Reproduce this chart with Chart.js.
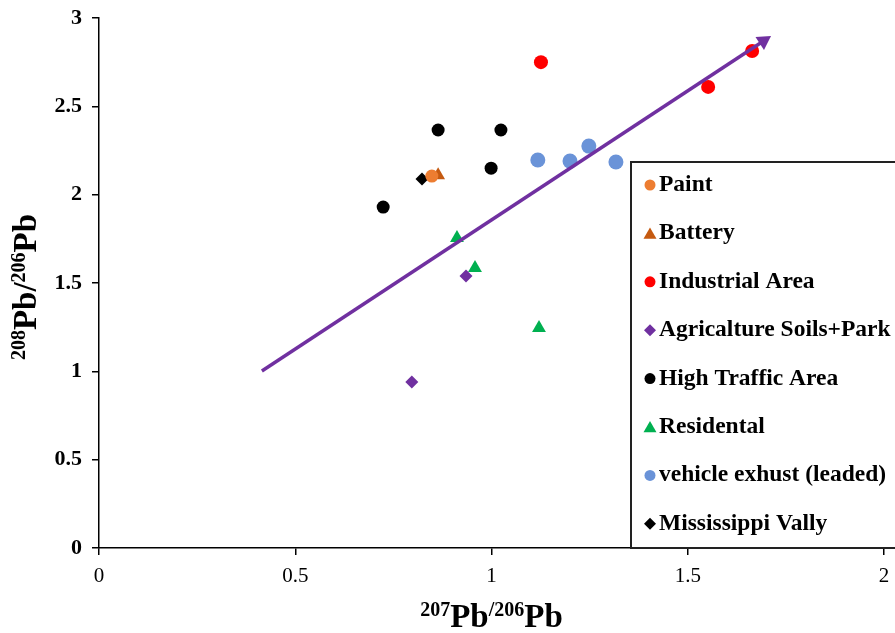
<!DOCTYPE html>
<html>
<head>
<meta charset="utf-8">
<script src="https://cdn.jsdelivr.net/npm/chart.js@4.4.0/dist/chart.umd.min.js"></script>
<style>
  html, body { margin: 0; padding: 0; background: #fff; }
  #wrap { width: 895px; height: 633px; position: relative; }
</style>
</head>
<body>
<div id="wrap"><canvas id="chart"></canvas></div>
<script>
// values
const seriesNames = ['Paint', 'Battery', 'Industrial Area', 'Agricalture Soils+Park',
  'High Traffic Area', 'Residental', 'vehicle exhust (leaded)', 'Mississippi Vally'];

const paintX = [0.848];
const paintY = [2.105];
const batteryX = [0.864];
const batteryY = [2.11];
const industrialX = [1.126, 1.552, 1.664];
const industrialY = [2.75, 2.61, 2.813];
const agriX = [0.935, 0.797];
const agriY = [1.54, 0.94];
const trafficX = [0.724, 0.864, 1.024, 0.999];
const trafficY = [1.93, 2.366, 2.366, 2.15];
const residX = [0.912, 0.958, 1.121];
const residY = [1.755, 1.585, 1.245];
const vehicleX = [1.118, 1.2, 1.248, 1.317];
const vehicleY = [2.196, 2.19, 2.275, 2.185];
const missX = [0.823];
const missY = [2.089];

// trend arrow (start, end)
const trendX = [0.415, 1.693];
const trendY = [1.002, 2.87];

const xTicks = [0, 0.5, 1, 1.5, 2];
const yTicks = [0, 0.5, 1, 1.5, 2, 2.5, 3];

const xTitle = [['207', true], ['Pb', false], ['/206', true], ['Pb', false]];
const yTitle = [['208', true], ['Pb', false], ['/', false], ['206', true], ['Pb', false]];

const colors = ['#ED7D31', '#C55A11', '#FF0000', '#7030A0', '#000000', '#00B050', '#6A93D8', '#000000'];
const styles = ['circle', 'triangle', 'circle', 'rectRot', 'circle', 'triangle', 'circle', 'rectRot'];
const radii = [6.5, 8, 7, 6.5, 6.5, 8, 7.5, 6.5];

function pts(xs, ys) {
  return xs.map((x, i) => ({ x: x, y: ys[i] }));
}

const allX = [paintX, batteryX, industrialX, agriX, trafficX, residX, vehicleX, missX];
const allY = [paintY, batteryY, industrialY, agriY, trafficY, residY, vehicleY, missY];

const datasets = seriesNames.map((name, i) => ({
  label: name,
  data: pts(allX[i], allY[i]),
  pointStyle: styles[i],
  pointRadius: radii[i],
  pointHoverRadius: radii[i],
  backgroundColor: colors[i],
  borderColor: colors[i],
  borderWidth: 0,
  showLine: false
}));

datasets.unshift({
  label: 'trend',
  data: pts(trendX, trendY),
  showLine: true,
  borderColor: '#7030A0',
  backgroundColor: '#7030A0',
  borderWidth: 3.5,
  pointStyle: 'triangle',
  pointRadius: [0, 9],
  pointHoverRadius: [0, 9],
  pointRotation: [0, 57],
  pointBorderWidth: 0
});

function drawMarker(ctx, style, x, y, r, color) {
  ctx.save();
  ctx.fillStyle = color;
  ctx.beginPath();
  if (style === 'circle') {
    ctx.arc(x, y, r, 0, Math.PI * 2);
  } else if (style === 'triangle') {
    for (let k = 0; k < 3; k++) {
      const a = k * 2 * Math.PI / 3;
      const px = x + Math.sin(a) * r, py = y - Math.cos(a) * r;
      if (k === 0) ctx.moveTo(px, py); else ctx.lineTo(px, py);
    }
  } else {
    ctx.moveTo(x, y - r); ctx.lineTo(x + r, y); ctx.lineTo(x, y + r); ctx.lineTo(x - r, y);
  }
  ctx.closePath();
  ctx.fill();
  ctx.restore();
}

// title pieces with small superscripts
const bigFont = 'bold 33px "Liberation Serif"';
const supFont = 'bold 20px "Liberation Serif"';
function titleWidth(ctx, parts) {
  let w = 0;
  parts.forEach(p => {
    ctx.font = p[1] ? supFont : bigFont;
    w += ctx.measureText(p[0]).width;
  });
  return w;
}
function drawTitle(ctx, parts, cx, baseY) {
  const w = titleWidth(ctx, parts);
  let x = cx - w / 2;
  ctx.textAlign = 'left';
  ctx.textBaseline = 'alphabetic';
  ctx.fillStyle = '#000';
  parts.forEach(p => {
    ctx.font = p[1] ? supFont : bigFont;
    ctx.fillText(p[0], x, p[1] ? baseY - 11 : baseY);
    x += ctx.measureText(p[0]).width;
  });
}

const extras = {
  id: 'extras',
  afterDraw(chart) {
    const ctx = chart.ctx;
    const area = chart.chartArea;
    ctx.save();
    // axis titles
    drawTitle(ctx, xTitle, (area.left + area.right) / 2, 627);
    ctx.save();
    ctx.translate(36, (area.top + area.bottom) / 2 + 4);
    ctx.rotate(-Math.PI / 2);
    drawTitle(ctx, yTitle, 0, 0);
    ctx.restore();

    // legend box
    const boxL = 631, boxT = 162, boxB = area.bottom;
    ctx.fillStyle = '#fff';
    ctx.fillRect(boxL, boxT, 300, boxB - boxT);
    ctx.strokeStyle = '#222';
    ctx.lineWidth = 2;
    ctx.strokeRect(boxL, boxT, 300, boxB - boxT);
    ctx.font = 'bold 23.5px "Liberation Serif"';
    ctx.textBaseline = 'middle';
    ctx.textAlign = 'left';
    seriesNames.forEach((name, i) => {
      const y = 185 + i * 48.4;
      const r = styles[i] === 'triangle' ? 7.5 : (styles[i] === 'rectRot' ? 6 : 5.5);
      drawMarker(ctx, styles[i], 650, styles[i] === 'triangle' ? y + 1.5 : y, r, colors[i]);
      ctx.fillStyle = '#000';
      ctx.fillText(name, 659, y);
    });
    ctx.restore();
  }
};

new Chart(document.getElementById('chart'), {
  type: 'scatter',
  data: { datasets: datasets },
  options: {
    responsive: true,
    maintainAspectRatio: false,
    animation: false,
    layout: { padding: { top: 18, right: 11, left: 0, bottom: 0 } },
    plugins: {
      legend: { display: false },
      tooltip: { enabled: false }
    },
    scales: {
      x: {
        type: 'linear',
        min: 0,
        max: 2,
        afterBuildTicks: s => { s.ticks = xTicks.map(v => ({ value: v })); },
        afterFit: s => { s.height = 85; s.paddingRight = 0; s.paddingLeft = 0; },
        grid: { drawOnChartArea: false, drawTicks: true, tickLength: 7, color: '#000', lineWidth: 1.5 },
        border: { display: true, color: '#000', width: 1.5 },
        ticks: {
          color: '#000',
          padding: 9,
          maxRotation: 0,
          callback: v => String(v),
          font: { family: 'Liberation Serif', size: 21 }
        }
      },
      y: {
        type: 'linear',
        min: 0,
        max: 3,
        afterBuildTicks: s => { s.ticks = yTicks.map(v => ({ value: v })); },
        afterFit: s => { s.width = 99; s.paddingTop = 0; s.paddingBottom = 0; },
        grid: { drawOnChartArea: false, drawTicks: true, tickLength: 7, color: '#000', lineWidth: 1.5 },
        border: { display: true, color: '#000', width: 1.5 },
        ticks: {
          color: '#000',
          padding: 10,
          callback: v => String(v),
          font: { family: 'Liberation Serif', size: 22, weight: 'bold' }
        }
      }
    }
  },
  plugins: [extras]
});
</script>
</body>
</html>
